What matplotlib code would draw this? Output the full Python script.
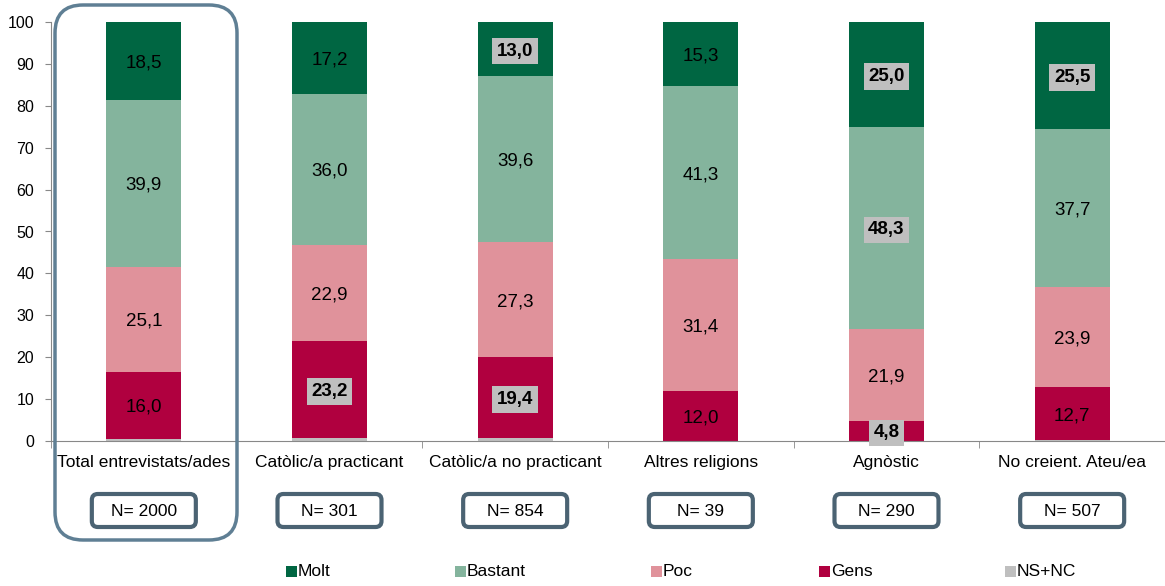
import matplotlib
matplotlib.use("Agg")
import matplotlib.pyplot as plt
from matplotlib.patches import FancyBboxPatch, Rectangle
import numpy as np

plt.rcParams['font.family'] = ['Liberation Sans', 'DejaVu Sans']

categories = ["Total entrevistats/ades", "Catòlic/a practicant", "Catòlic/a no practicant",
              "Altres religions", "Agnòstic", "No creient. Ateu/ea"]
n_labels = ["N= 2000", "N= 301", "N= 854", "N= 39", "N= 290", "N= 507"]
ns_nc = [0.5, 0.7, 0.7, 0.0, 0.0, 0.2]
gens = [16.0, 23.2, 19.4, 12.0, 4.8, 12.7]
poc = [25.1, 22.9, 27.3, 31.4, 21.9, 23.9]
bastant = [39.9, 36.0, 39.6, 41.3, 48.3, 37.7]
molt = [18.5, 17.2, 13.0, 15.3, 25.0, 25.5]
# labels highlighted in bold (series, category index)
highlight = {("gens", 1), ("gens", 2), ("gens", 4), ("bastant", 4), ("molt", 2), ("molt", 4), ("molt", 5)}

series = [("ns_nc", "NS+NC", ns_nc, "#BFBFBF"),
          ("gens", "Gens", gens, "#B0003F"),
          ("poc", "Poc", poc, "#E0929B"),
          ("bastant", "Bastant", bastant, "#84B49D"),
          ("molt", "Molt", molt, "#006642")]

W, H = 1165, 586
fig = plt.figure(figsize=(W / 100, H / 100), dpi=100)
ax = fig.add_axes([51 / W, 1 - 441 / H, (1165 - 51) / W, (441 - 22) / H])

x = np.arange(len(categories))
bottom = np.zeros(len(categories))
for key, name, vals, col in series:
    vals = np.array(vals)
    ax.bar(x, vals, width=0.405, bottom=bottom, color=col, label=name, zorder=2)
    if key != "ns_nc":
        for i, v in enumerate(vals):
            yc = bottom[i] + v / 2
            txt = f"{v:.1f}".replace(".", ",")
            if (key, i) in highlight:
                ax.text(x[i], yc, txt, ha="center", va="center_baseline", fontsize=13.5, fontweight="bold",
                        bbox=dict(boxstyle="square,pad=0.25", fc="#BFBFBF", ec="none"), zorder=4)
            else:
                ax.text(x[i], yc, txt, ha="center", va="center_baseline", fontsize=13.5, zorder=4)
    bottom += vals

ax.set_xlim(-0.5, len(categories) - 0.5)
ax.set_ylim(0, 100)
ax.set_yticks(np.arange(0, 101, 10))
ax.tick_params(axis="y", labelsize=11.5, length=4, color="#888888", pad=8)
ax.set_xticks(x)
ax.set_xticklabels(categories, fontsize=12.5)
ax.tick_params(axis="x", length=0, pad=10)
ax.set_xticks(np.arange(-0.5, len(categories)), minor=True)
ax.tick_params(axis="x", which="minor", length=5, color="#888888")
for s in ["top", "right"]:
    ax.spines[s].set_visible(False)
ax.spines["left"].set_color("#888888")
ax.spines["bottom"].set_color("#888888")

# overlay in pixel coordinates for decorations
ov = fig.add_axes([0, 0, 1, 1], zorder=5)
ov.set_xlim(0, W)
ov.set_ylim(H, 0)
ov.axis("off")
ov.patch.set_alpha(0)

big = FancyBboxPatch((55, 5), 182, 535, boxstyle="round,pad=0,rounding_size=28",
                     fc="none", ec="#5F7F94", lw=2.5)
ov.add_patch(big)

centers_px = [51 + (i + 0.5) * (1165 - 51) / 6 for i in range(6)]
for cx, lab in zip(centers_px, n_labels):
    bx = FancyBboxPatch((cx - 52, 494), 104, 33, boxstyle="round,pad=0,rounding_size=6",
                        fc="none", ec="#4B6373", lw=3)
    ov.add_patch(bx)
    ov.text(cx, 512, lab, ha="center", va="center", fontsize=12.5)

# legend
leg_x = [286, 455, 651, 819, 1005]
leg_items = [("Molt", "#006642"), ("Bastant", "#84B49D"), ("Poc", "#E0929B"),
             ("Gens", "#B0003F"), ("NS+NC", "#BFBFBF")]
for lx, (name, col) in zip(leg_x, leg_items):
    ov.add_patch(Rectangle((lx, 566), 11, 11, fc=col, ec="none"))
    ov.text(lx + 12, 572, name, ha="left", va="center", fontsize=12.5)

fig.savefig("out.png", dpi=100)
